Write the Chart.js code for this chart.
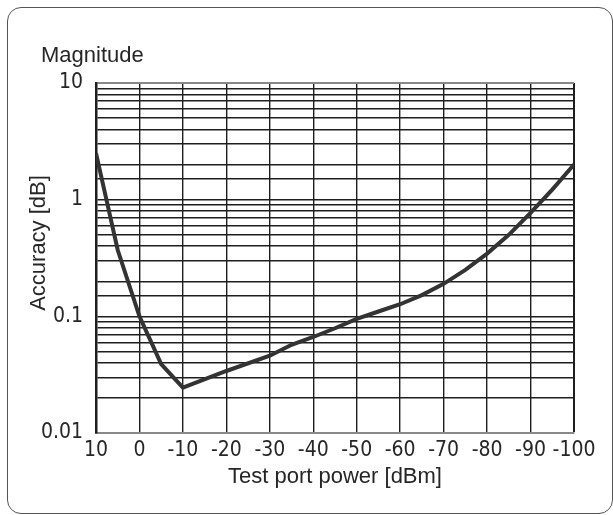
<!DOCTYPE html>
<html>
<head>
<meta charset="utf-8">
<script src="https://cdn.jsdelivr.net/npm/chart.js@4/dist/chart.umd.min.js"></script>
<style>
  html, body { margin: 0; padding: 0; background: #fff; }
  #wrap { position: relative; width: 613px; height: 515px; overflow: hidden; }
  #frame { position: absolute; left: 7px; top: 7px; width: 604px; height: 505px;
           border: 1.5px solid #555; border-radius: 14px; }
  #chart { position: absolute; left: 0; top: 0; }
</style>
</head>
<body>
<div id="wrap">
  <div id="frame"></div>
  <canvas id="chart" width="613" height="515"></canvas>
</div>
<script>
const ctx = document.getElementById('chart');

// test port power [dBm] and magnitude accuracy [dB]
const power = [10, 5, 0, -5, -10, -20, -30, -35, -40, -45, -50, -55, -60, -65, -70, -75, -80, -85, -90, -95, -100];
const accuracy = [2.5, 0.37, 0.1, 0.039, 0.0245, 0.034, 0.046, 0.057, 0.0665, 0.079, 0.095, 0.11, 0.127, 0.152, 0.19, 0.25, 0.345, 0.5, 0.77, 1.22, 2.0];

const xTicks = [10, 0, -10, -20, -30, -40, -50, -60, -70, -80, -90, -100];
const yTickLabels = ['0.01', '0.1', '1', '10'];

const titleFont = { family: "'Liberation Sans', Arial, sans-serif", size: 22 };
const tickFont = { family: "'Liberation Sans Narrow', 'DejaVu Sans Condensed', 'Liberation Sans', sans-serif", size: 21 };
const ink = '#262626';

// the little text bits that sit outside the axes
const extras = {
    id: 'extras',
    afterDraw(chart) {
        const c = chart.ctx;
        c.save();
        c.fillStyle = ink;
        c.font = "22px 'Liberation Sans', Arial, sans-serif";
        c.textBaseline = 'alphabetic';
        c.textAlign = 'left';
        c.fillText('Magnitude', 41, 62);

        c.translate(39, 243);
        c.rotate(-Math.PI / 2);
        c.textAlign = 'center';
        c.textBaseline = 'middle';
        c.fillText('Accuracy [dB]', 0, 0);
        c.restore();
    }
};

const myChart = new Chart(ctx, {
    type: 'line',
    data: {
        datasets: [{
            label: 'Magnitude',
            data: power.map((p, i) => ({ x: p, y: accuracy[i] })),
            borderColor: '#333',
            borderWidth: 4,
            pointRadius: 0,
            tension: 0,
            fill: false,
        }],
    },
    options: {
        responsive: false,
        animation: false,
        layout: { padding: { left: 0, right: 39, top: 83, bottom: 12 } },
        plugins: {
            legend: { display: false },
            tooltip: { enabled: false },
        },
        scales: {
            x: {
                type: 'linear',
                reverse: true,
                min: -100,
                max: 10,
                afterFit: s => { s.height = 70; },
                afterBuildTicks: s => { s.ticks = xTicks.map(v => ({ value: v })); },
                ticks: { color: ink, font: tickFont, padding: 5, maxRotation: 0, autoSkip: false },
                grid: {
                    drawTicks: false,
                    color: '#1e1e1e',
                    lineWidth: c => c.tick && c.tick.value === -100 ? 2 : 1.4,
                },
                border: { color: '#888', width: 2 },
                title: { display: true, text: 'Test port power [dBm]', color: ink, font: titleFont, padding: { top: 0, bottom: 13 } },
            },
            y: {
                type: 'logarithmic',
                min: 0.01,
                max: 10,
                afterFit: s => { s.width = 96; },
                ticks: {
                    color: ink,
                    font: tickFont,
                    padding: 13,
                    autoSkip: false,
                    callback: v => {
                        const e = Math.log10(v);
                        return Math.abs(e - Math.round(e)) < 1e-6 ? yTickLabels[Math.round(e) + 2] : '';
                    },
                },
                grid: {
                    drawTicks: false,
                    color: c => c.tick && Math.abs(c.tick.value - 10) < 1e-9 ? '#888' : '#1e1e1e',
                    lineWidth: c => c.tick && Math.abs(c.tick.value - 10) < 1e-9 ? 2 : 1.4,
                },
                border: { color: '#1e1e1e', width: 2.5 },
            },
        },
    },
    plugins: [extras],
});
</script>
</body>
</html>
